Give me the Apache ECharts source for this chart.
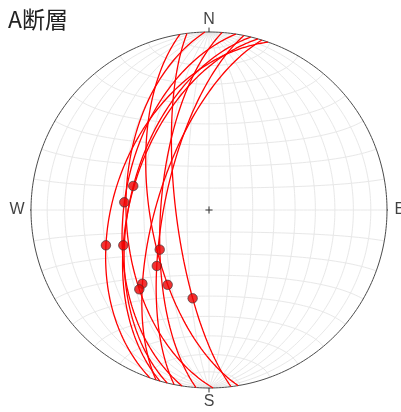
<!DOCTYPE html>
<html><head><meta charset="utf-8">
<script src="https://cdn.jsdelivr.net/npm/echarts@6/dist/echarts.min.js"></script>
<style>html,body{margin:0;padding:0;background:#fff}#c{width:401px;height:412px}</style>
</head><body><div id="c"></div>
<script>
const chartTitle = 'A断層';
const dirLabels = ['N', 'E', 'S', 'W'];
const dirAzimuths = [0, 90, 180, 270];
// fault planes: dip direction / dip (degrees)
const planeDipDir = [283.6, 278.7, 289.4, 286.0, 274.2, 281.3, 287.3, 268.7, 260.6, 262.9];
const planeDip    = [53.3, 50.6, 45.6, 53.6, 67.9, 69.5, 66.2, 51.5, 62.8, 74.9];
// striations: trend / plunge (degrees)
const lineTrend  = [287.6, 275.2, 251.1, 247.6, 231.2, 223.0, 222.1, 221.3, 208.9, 190.5];
const linePlunge = [53.2, 50.5, 38.7, 46.8, 60.9, 54.6, 43.5, 40.4, 50.3, 48.2];
const gridStep = 10;

const D2R = Math.PI / 180;
function proj(trend, plunge) {
  const r = Math.SQRT2 * Math.sin((90 - plunge) / 2 * D2R);
  return [r * Math.sin(trend * D2R), r * Math.cos(trend * D2R)];
}
function vecProj(e, n, u) {
  const len = Math.hypot(e, n, u);
  const p = Math.asin(Math.min(1, Math.max(-1, -u / len))) / D2R;
  const t = Math.atan2(e, n) / D2R;
  return proj(t, p);
}
function greatCircle(dd, dip) {
  const s = (dd - 90) * D2R;
  const S = [Math.sin(s), Math.cos(s), 0];
  const D = [Math.sin(dd * D2R) * Math.cos(dip * D2R), Math.cos(dd * D2R) * Math.cos(dip * D2R), -Math.sin(dip * D2R)];
  const pts = [];
  for (let b = 0; b <= 180; b += 1) {
    const cb = Math.cos(b * D2R), sb = Math.sin(b * D2R);
    pts.push(vecProj(cb * S[0] + sb * D[0], cb * S[1] + sb * D[1], cb * S[2] + sb * D[2]));
  }
  return pts;
}
function smallCircleNS(alpha, sign) {
  const pts = [];
  const sa = Math.sin(alpha * D2R), ca = Math.cos(alpha * D2R);
  for (let f = 0; f <= 180; f += 2) {
    pts.push(vecProj(sa * Math.cos(f * D2R), sign * ca, -sa * Math.sin(f * D2R)));
  }
  return pts;
}

const series = [];
const gridStyle = { color: '#e8e8e8', width: 1 };
function addLine(data, style, z) {
  series.push({ type: 'line', data: data, showSymbol: false, silent: true, animation: false,
    lineStyle: style, z: z, clip: false });
}
// net: meridians and small circles
for (let d = gridStep; d < 90; d += gridStep) {
  addLine(greatCircle(90, d), gridStyle, 1);
  addLine(greatCircle(270, d), gridStyle, 1);
  addLine(smallCircleNS(d, 1), gridStyle, 1);
  addLine(smallCircleNS(d, -1), gridStyle, 1);
}
addLine(greatCircle(90, 90), gridStyle, 1);
addLine(smallCircleNS(90, 1), gridStyle, 1);
// primitive
const prim = [];
for (let a = 0; a <= 360; a += 1) prim.push(proj(a, 0));
addLine(prim, { color: '#4a4a4a', width: 1 }, 3);
// direction ticks
dirAzimuths.forEach(a => {
  const t = a * D2R;
  addLine([[Math.sin(t), Math.cos(t)], [1.025 * Math.sin(t), 1.025 * Math.cos(t)]], { color: '#333', width: 1 }, 3);
});
// centre cross
addLine([[-0.02, 0], [0.02, 0]], { color: '#333', width: 1 }, 3);
addLine([[0, -0.02], [0, 0.02]], { color: '#333', width: 1 }, 3);
// fault planes
planeDipDir.forEach((dd, i) => addLine(greatCircle(dd, planeDip[i]), { color: '#ff0000', width: 1.3 }, 5));
// striations
series.push({ type: 'scatter', z: 8, silent: true, animation: false, clip: false,
  data: lineTrend.map((t, i) => proj(t, linePlunge[i])), symbolSize: 9.5,
  itemStyle: { color: '#ee0000', borderColor: '#333', borderWidth: 0.8 } });
// direction labels
const labelDist = [1.067, 1.072, 1.079, 1.078];
series.push({ type: 'scatter', z: 9, silent: true, animation: false, clip: false, symbolSize: 0,
  data: dirLabels.map((l, i) => ({ value: [labelDist[i] * Math.sin(dirAzimuths[i] * D2R), labelDist[i] * Math.cos(dirAzimuths[i] * D2R)], name: l })),
  label: { show: true, position: 'inside', formatter: p => p.name, color: '#111', fontSize: 16, fontFamily: 'Liberation Sans' } });

const chart = echarts.init(document.getElementById('c'), null, { renderer: 'canvas' });
chart.setOption({
  animation: false,
  backgroundColor: '#fff',
  grid: { left: 31, right: 14, top: 32, bottom: 24 },
  xAxis: { type: 'value', min: -1, max: 1, show: false },
  yAxis: { type: 'value', min: -1, max: 1, show: false },
  graphic: [{ type: 'text', left: 8, top: 8, style: { text: chartTitle, fontSize: 23, fill: '#222', fontFamily: 'Noto Sans CJK JP' } }],
  series: series
});
</script></body></html>
